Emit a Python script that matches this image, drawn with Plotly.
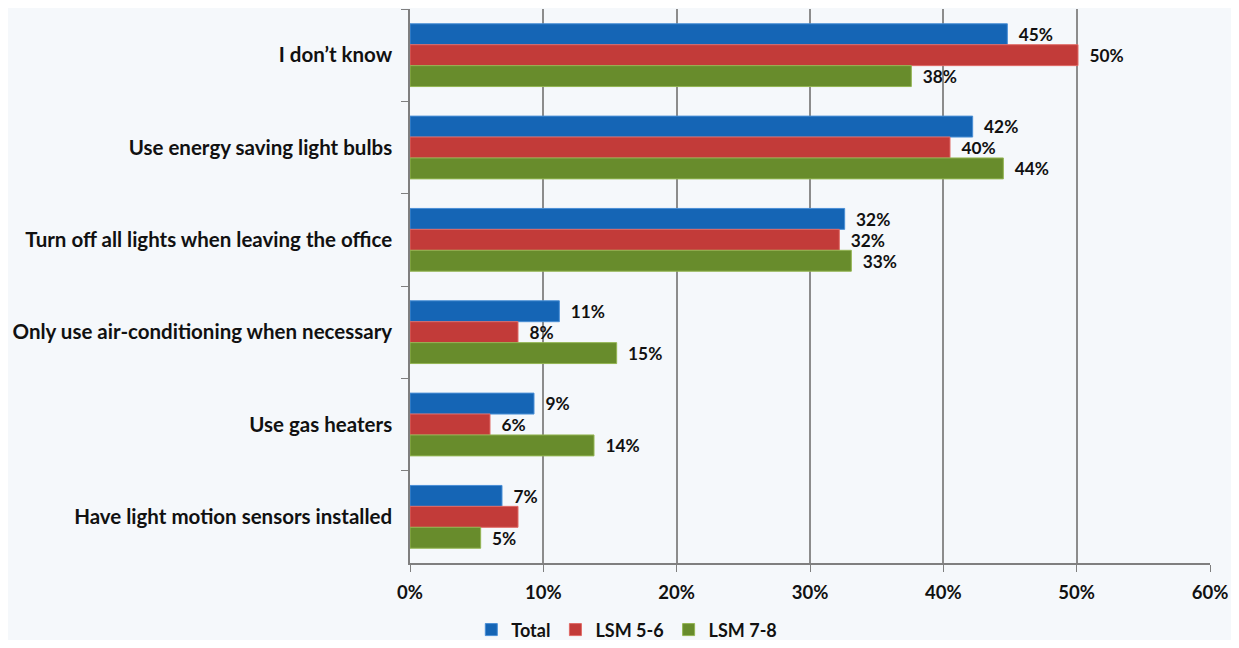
import plotly.graph_objects as go

categories = ["I don\u2019t know", "Use energy saving light bulbs", "Turn off all lights when leaving the office",
              "Only use air-conditioning when necessary", "Use gas heaters", "Have light motion sensors installed"]
total = [44.8, 42.2, 32.6, 11.2, 9.3, 6.9]
lsm56 = [50.1, 40.5, 32.2, 8.1, 6.0, 8.1]
lsm78 = [37.6, 44.5, 33.1, 15.5, 13.8, 5.3]
total_lbl = ["45%", "42%", "32%", "11%", "9%", "7%"]
lsm56_lbl = ["50%", "40%", "32%", "8%", "6%", ""]
lsm78_lbl = ["38%", "44%", "33%", "15%", "14%", "5%"]
x_ticks = [0, 10, 20, 30, 40, 50, 60]

font_family = "Lato, 'Open Sans', sans-serif"

fig = go.Figure()
for name, vals, lbls, col, edge in [
    ("Total", total, total_lbl, "#1565b5", "#4a8fd6"),
    ("LSM 5-6", lsm56, lsm56_lbl, "#c23b39", "#e06a66"),
    ("LSM 7-8", lsm78, lsm78_lbl, "#688c2c", "#93b552"),
]:
    fig.add_trace(go.Bar(
        y=categories, x=vals, name=name, orientation="h",
        text=["  " + t if t else "" for t in lbls], textposition="outside", cliponaxis=False,
        textfont=dict(size=19, color="#111111", family=font_family, weight="bold"),
        marker=dict(color=col, line=dict(color=edge, width=1)),
    ))

# page body adds an 8px margin, so the figure is sized to fit inside it
fig.update_layout(
    width=1223, height=632,
    margin=dict(l=402, r=21, t=1, b=77),
    barmode="group", bargap=0.32, bargroupgap=0,
    paper_bgcolor="#f5f8fb", plot_bgcolor="rgba(0,0,0,0)",
    font=dict(family=font_family, size=19, color="#111111"),
    legend=dict(orientation="h", x=0.271, xanchor="center", yref="container", y=0.016, yanchor="middle",
                font=dict(size=18, weight="bold"), traceorder="normal",
                itemwidth=30, bgcolor="rgba(0,0,0,0)"),
    showlegend=True,
)
fig.update_xaxes(
    range=[0, 60], tickvals=x_ticks, ticktext=[f"{t}%" for t in x_ticks],
    showgrid=True, gridcolor="#8c8c8c", gridwidth=1.5,
    showline=True, linecolor="#7f7f7f", linewidth=1.5,
    ticks="outside", ticklen=7, tickcolor="#7f7f7f", ticklabelstandoff=5,
    tickfont=dict(size=18.5, weight="bold"), zeroline=False, automargin=False,
)
fig.update_yaxes(
    autorange="reversed", showgrid=False,
    showline=True, linecolor="#7f7f7f", linewidth=1.5,
    ticks="outside", ticklen=7, tickcolor="#7f7f7f", tickson="boundaries",
    ticklabelstandoff=12, tickfont=dict(size=20.5, weight="bold"), automargin=False,
)

fig.write_html("out.html")
